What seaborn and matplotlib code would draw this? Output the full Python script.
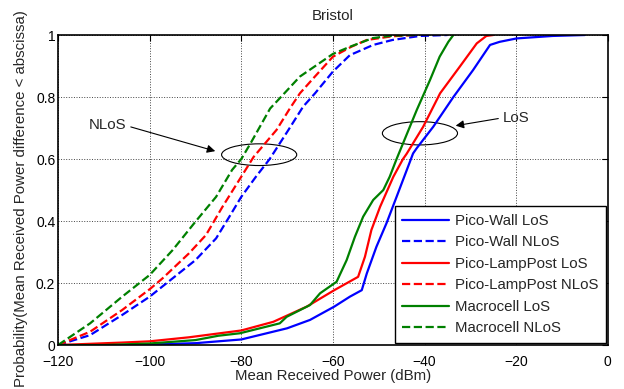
import numpy as np
import pandas as pd
import matplotlib
matplotlib.use('Agg')
import matplotlib.pyplot as plt
import seaborn as sns
from matplotlib.patches import Ellipse

# CDF curves (x in dBm, y probability)
wall_los_x = [-120, -105, -100, -90, -80, -70, -65, -59.7, -56.3, -53.7, -52.6, -50.5, -48.3, -46.1, -42.5,
              -41.7, -38.1, -33.7, -29.4, -25.7, -23.6, -19.9, -12, -5]
wall_los_y = [0.0, 0.0, 0.002, 0.006, 0.018, 0.054, 0.081, 0.124, 0.156, 0.177, 0.231, 0.317, 0.393, 0.478, 0.618,
              0.635, 0.704, 0.80, 0.887, 0.968, 0.978, 0.989, 0.997, 1.0]

wall_nlos_x = [-120, -113, -106, -100, -95, -90, -85.5, -82.6, -80, -76.8, -73.8, -69.7, -66.5, -63.9, -60,
               -56.3, -51.2, -47, -41, -35]
wall_nlos_y = [0.0, 0.032, 0.097, 0.156, 0.215, 0.274, 0.344, 0.414, 0.478, 0.543, 0.60, 0.694, 0.769, 0.812, 0.882,
               0.935, 0.968, 0.984, 0.997, 1.0]

lamp_los_x = [-120, -106, -100, -91.4, -80, -73, -65.7, -59.7, -54.5, -53, -51.6, -49.7, -46.8, -44.7, -43.9,
              -40.3, -36.6, -32.3, -28.6, -26.5, -25]
lamp_los_y = [0.0, 0.008, 0.012, 0.025, 0.047, 0.075, 0.124, 0.177, 0.22, 0.285, 0.371, 0.446, 0.543, 0.60, 0.617,
              0.704, 0.812, 0.898, 0.973, 0.997, 1.0]

lamp_nlos_x = [-120, -113, -106, -100, -97.2, -91.4, -87.7, -84.1, -80, -77.3, -72.3, -69.4, -67.2, -64.3, -60,
               -56, -52.6, -47, -42]
lamp_nlos_y = [0.0, 0.043, 0.113, 0.18, 0.215, 0.296, 0.355, 0.446, 0.543, 0.607, 0.694, 0.763, 0.812, 0.86, 0.93,
               0.962, 0.984, 0.996, 1.0]

macro_los_x = [-120, -110, -100, -90, -85, -80.3, -71.6, -70.1, -65, -62.8, -59.2, -57, -55.2, -53.4, -51.2, -49,
               -47.6, -46.1, -41.7, -38.8, -36.7, -34.8, -33.7]
macro_los_y = [0.0, 0.0, 0.005, 0.016, 0.03, 0.038, 0.07, 0.091, 0.129, 0.167, 0.204, 0.274, 0.349, 0.414, 0.468, 0.5,
               0.543, 0.60, 0.758, 0.855, 0.93, 0.978, 1.0]

macro_nlos_x = [-120, -113, -106, -100, -95, -90, -85.5, -82, -80, -78, -73.7, -71.6, -67.2, -60, -56.3, -51.3,
                -47, -42]
macro_nlos_y = [0.0, 0.07, 0.156, 0.226, 0.306, 0.398, 0.478, 0.565, 0.60, 0.65, 0.763, 0.796, 0.866, 0.939, 0.962,
                0.99, 0.998, 1.0]

series = [
    ('Pico-Wall LoS', wall_los_x, wall_los_y, 'blue', '-'),
    ('Pico-Wall NLoS', wall_nlos_x, wall_nlos_y, 'blue', '--'),
    ('Pico-LampPost LoS', lamp_los_x, lamp_los_y, 'red', '-'),
    ('Pico-LampPost NLoS', lamp_nlos_x, lamp_nlos_y, 'red', '--'),
    ('Macrocell LoS', macro_los_x, macro_los_y, (0, 0.5, 0), '-'),
    ('Macrocell NLoS', macro_nlos_x, macro_nlos_y, (0, 0.5, 0), '--'),
]

x_ticks = [-120, -100, -80, -60, -40, -20, 0]
y_ticks = [0, 0.2, 0.4, 0.6, 0.8, 1.0]
y_tick_labels = ['0', '0.2', '0.4', '0.6', '0.8', '1']

sns.set_style('white')
plt.rcParams['font.family'] = ['Liberation Sans', 'DejaVu Sans']

fig = plt.figure(figsize=(6.24, 3.89), dpi=100)
ax = fig.add_axes([0.093, 0.113, 0.881, 0.797])

for name, xs, ys, col, ls in series:
    df = pd.DataFrame({'x': xs, 'y': ys})
    sns.lineplot(data=df, x='x', y='y', ax=ax, color=col, linestyle=ls, lw=1.6, sort=False, label=name)

ax.set_xlim(-120, 0)
ax.set_ylim(0, 1)
ax.set_xticks(x_ticks)
ax.set_yticks(y_ticks)
ax.set_yticklabels(y_tick_labels)
ax.tick_params(direction='in', top=True, right=True, length=4, labelsize=10, colors='black')
ax.tick_params(axis='x', pad=7)
ax.tick_params(axis='y', pad=2)
ax.grid(True, linestyle=':', color='#444444', lw=0.7)
for sp in ax.spines.values():
    sp.set_linewidth(1.2)
    sp.set_color('black')

ax.set_title('Bristol', fontsize=10.8, pad=11)
ax.set_xlabel('Mean Received Power (dBm)', fontsize=10.8, labelpad=0)
ax.set_ylabel('Probability(Mean Received Power difference < abscissa)', fontsize=10.8)
ax.yaxis.set_label_coords(-0.055, 0.474)

# annotation ellipses and arrows
ax.add_patch(Ellipse((-76.1, 0.614), 16.4, 0.07, fill=False, edgecolor='black', lw=0.8))
ax.add_patch(Ellipse((-41.0, 0.683), 16.4, 0.075, fill=False, edgecolor='black', lw=0.8))
ax.annotate('', xy=(-85.1, 0.623), xytext=(-104.7, 0.706),
            arrowprops=dict(arrowstyle='-|>', color='black', lw=0.8, mutation_scale=12))
ax.annotate('', xy=(-33.8, 0.706), xytext=(-23.3, 0.732),
            arrowprops=dict(arrowstyle='-|>', color='black', lw=0.8, mutation_scale=12))
ax.text(-109.1, 0.71, 'NLoS', ha='center', va='center', fontsize=10.8)
ax.text(-20.1, 0.732, 'LoS', ha='center', va='center', fontsize=10.8)

leg = ax.legend(loc='lower right', fontsize=10.8, frameon=True, fancybox=False, edgecolor='black',
                framealpha=1, borderaxespad=0.15, handlelength=3.1, handletextpad=0.4, labelspacing=0.5,
                borderpad=0.5)
leg.get_frame().set_linewidth(1.0)

fig.savefig('out.png', dpi=100)
